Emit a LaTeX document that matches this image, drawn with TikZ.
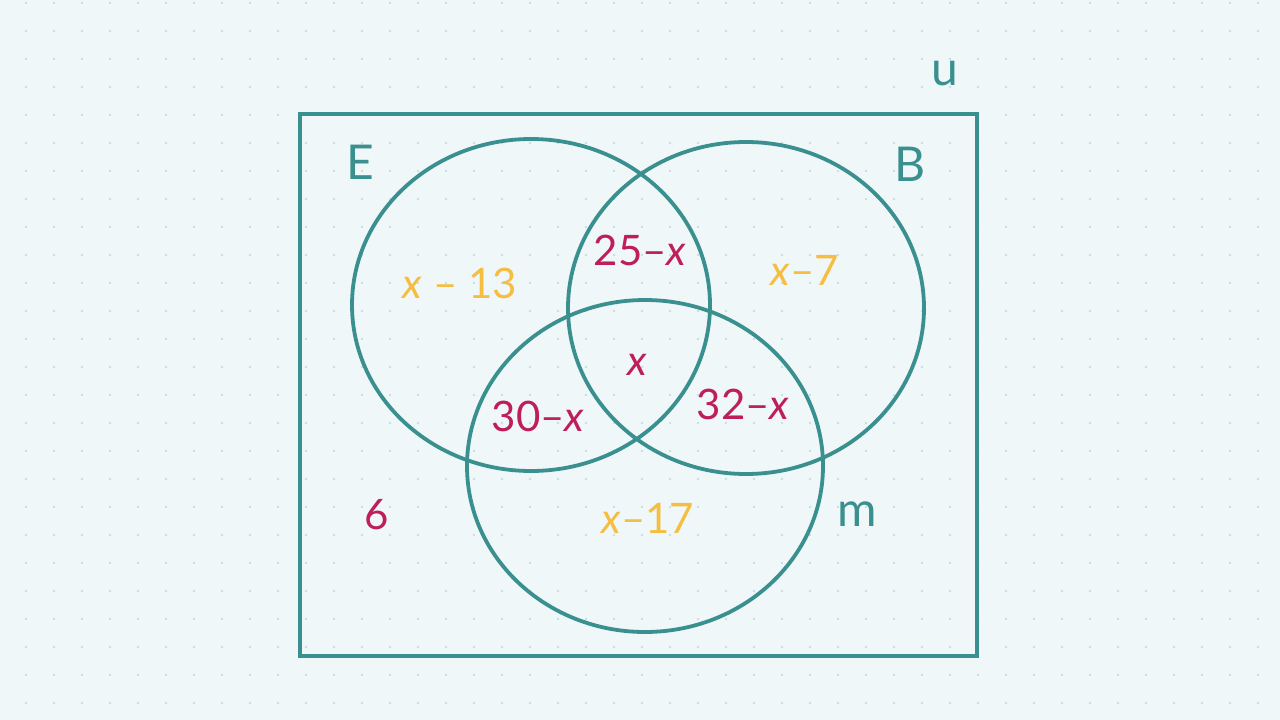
\documentclass[tikz,border=0pt]{standalone}
\usepackage{xcolor}
\usepackage{fontspec}
\setmainfont{Lato}
\definecolor{paper}{RGB}{240,247,249}
\definecolor{griddot}{RGB}{196,224,226}
\definecolor{teal}{RGB}{58,143,143}
\definecolor{plum}{RGB}{190,30,90}
\definecolor{gold}{RGB}{246,190,64}
\tikzset{
  setname/.style={text=teal, font=\fontsize{48}{48}\selectfont},
  onlyset/.style={text=gold, font=\fontsize{42}{42}\selectfont},
  shared/.style={text=plum, font=\fontsize{42}{42}\selectfont},
  ring/.style={draw=teal, line width=3.8pt}
}
\begin{document}
\begin{tikzpicture}[x=1pt, y=-1pt]
    \fill[paper] (0,0) rectangle (1280,720);
    \useasboundingbox (0,0) rectangle (1280,720);
    \foreach \i in {0,...,45}
        \foreach \j in {0,...,25}
            \fill[griddot] (26+28*\i, 3+28*\j) circle (1.3);

    \draw[draw=teal, line width=3.2pt] (300,114) rectangle (977,656);
    \draw[ring] (531,305) ellipse [x radius=179, y radius=166];
    \draw[ring] (746,308) ellipse [x radius=178, y radius=166];
    \draw[ring] (645,466) ellipse [x radius=178, y radius=166];

    \node (U) [setname] at (945,74) {u};
    \node (E) [setname] at (360,162) {E};
    \node (B) [setname] at (910,164) {B};
    \node (M) [setname] at (857,514) {m};

    \node (EO) [onlyset] at (460,283) {\textit{x} – 13};
    \node (BO) [onlyset] at (805,270) {\textit{x}–7};
    \node (MO) [onlyset] at (648,518) {\textit{x}–17};
    \node (EB) [shared] at (640,250) {25–\textit{x}};
    \node (EBM) [shared] at (637,365) {\textit{x}};
    \node (EM) [shared] at (538,416) {30–\textit{x}};
    \node (BM) [shared] at (743,404) {32–\textit{x}};
    \node (OUT) [shared] at (377,515) {6};
\end{tikzpicture}
\end{document}
